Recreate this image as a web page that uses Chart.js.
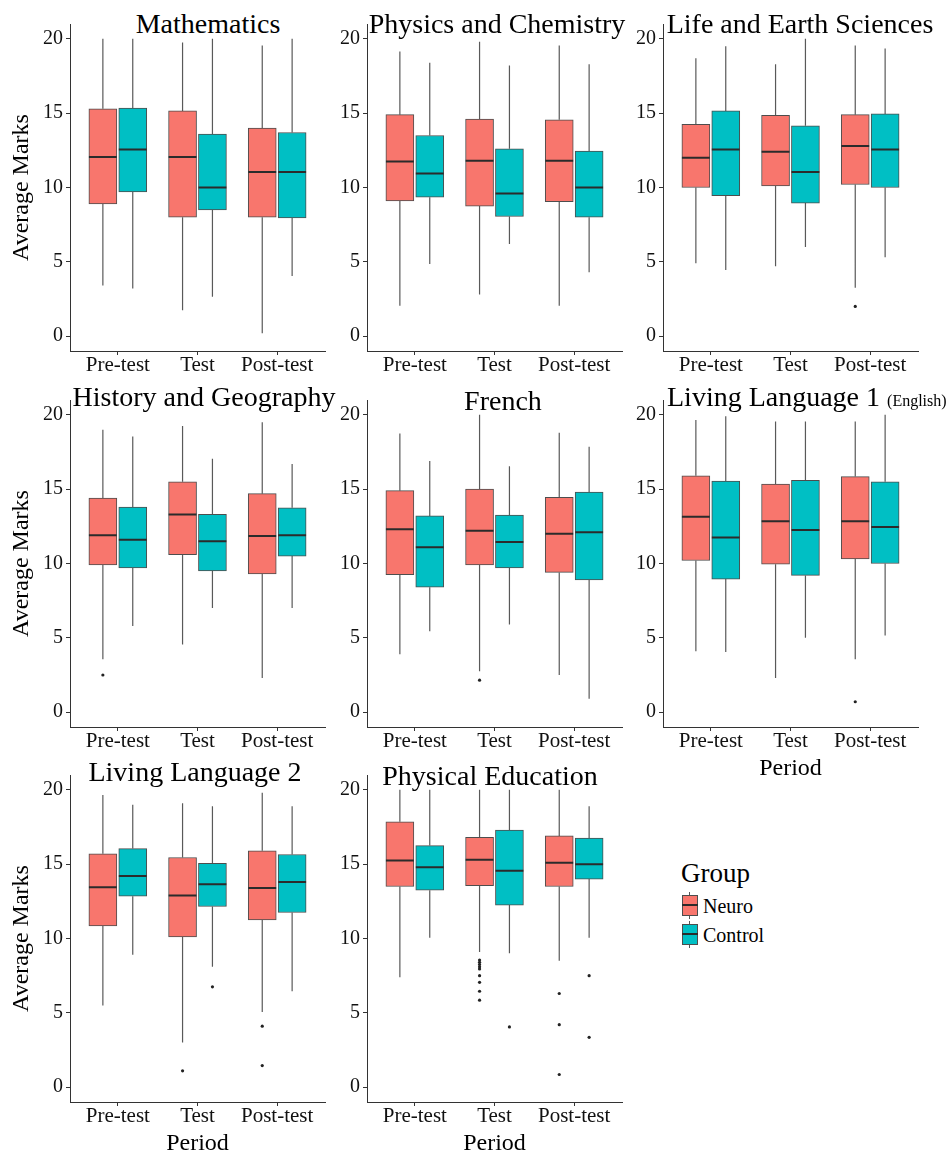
<!DOCTYPE html>
<html>
<head>
<meta charset="utf-8">
<script src="https://cdn.jsdelivr.net/npm/chart.js@4.4.1/dist/chart.umd.min.js"></script>
<style>
  body { margin: 0; background: #fff; }
  #wrap { position: relative; width: 949px; height: 1153px; overflow: hidden;
          font-family: "Liberation Serif", "Times New Roman", serif; color: #000; }
  #wrap canvas { position: absolute; }
  .title { position: absolute; font-size: 28px; line-height: 28px; white-space: nowrap; }
  .title.c { width: 400px; text-align: center; }
  .title small { font-size: 16px; margin-left: 7px; }
  .lg { position: absolute; white-space: nowrap; }
  .key { position: absolute; width: 16px; height: 27px; }
  .key .stub { position: absolute; left: 7px; top: 0; width: 1px; height: 27px; background: #555; }
  .key .box { position: absolute; left: 0; top: 3px; width: 16px; height: 21px;
              box-sizing: border-box; border: 1px solid #4d4d4d; }
  .key .med { position: absolute; left: 0; top: 12px; width: 16px; height: 2px; background: #2b2b2b; }
</style>
</head>
<body>
<div id="wrap">
  <div class="lg" style="left:681px; top:860px; font-size:27px; line-height:27px;">Group</div>
  <div class="key" style="left:682px; top:892px;"><div class="stub"></div><div class="box" style="background:#F8766D"></div><div class="med"></div></div>
  <div class="lg" style="left:703px; top:896px; font-size:20px; line-height:20px;">Neuro</div>
  <div class="key" style="left:682px; top:921px;"><div class="stub"></div><div class="box" style="background:#00BFC4"></div><div class="med"></div></div>
  <div class="lg" style="left:703px; top:925px; font-size:20px; line-height:20px;">Control</div>
</div>
<script>
const periods = ['Pre-test', 'Test', 'Post-test'];
const groups = ['Neuro', 'Control'];
const yTicks = [0, 5, 10, 15, 20];

// each row: [lower whisker, Q1, median, Q3, upper whisker] for Pre-test, Test, Post-test
const mathNeuro = [[3.4, 8.9, 12.05, 15.3, 20.0], [1.75, 8.0, 12.05, 15.15, 19.75], [0.2, 8.0, 11.05, 14.0, 19.55]];
const mathControl = [[3.2, 9.7, 12.55, 15.35, 20.0], [2.65, 8.5, 10.0, 13.6, 20.0], [4.05, 7.95, 11.05, 13.7, 20.0]];
const mathNeuroOut = [[], [], []];
const mathControlOut = [[], [], []];

const physNeuro = [[2.05, 9.1, 11.75, 14.9, 19.15], [2.8, 8.75, 11.8, 14.6, 19.8], [2.05, 9.05, 11.8, 14.55, 19.55]];
const physControl = [[4.85, 9.35, 10.95, 13.5, 18.4], [6.2, 8.05, 9.6, 12.6, 18.2], [4.3, 8.0, 10.0, 12.45, 18.3]];
const physNeuroOut = [[], [], []];
const physControlOut = [[], [], []];

const lifeNeuro = [[4.9, 10.0, 12.0, 14.25, 18.7], [4.7, 10.1, 12.4, 14.85, 18.3], [3.25, 10.2, 12.8, 14.9, 19.55]];
const lifeControl = [[4.45, 9.45, 12.55, 15.15, 19.5], [6.0, 8.95, 11.05, 14.15, 20.0], [5.3, 10.0, 12.55, 14.95, 19.35]];
const lifeNeuroOut = [[], [], [2.0]];
const lifeControlOut = [[], [], []];

const histNeuro = [[3.55, 9.9, 11.9, 14.4, 19.0], [4.55, 10.6, 13.3, 15.5, 19.25], [2.3, 9.3, 11.85, 14.7, 19.5]];
const histControl = [[5.8, 9.7, 11.6, 13.8, 18.55], [7.0, 9.5, 11.5, 13.3, 17.05], [7.0, 10.5, 11.9, 13.75, 16.7]];
const histNeuroOut = [[2.5], [], []];
const histControlOut = [[], [], []];

const frenchNeuro = [[3.9, 9.25, 12.3, 14.9, 18.75], [2.75, 9.9, 12.2, 15.0, 20.0], [2.5, 9.4, 12.0, 14.45, 18.8]];
const frenchControl = [[5.45, 8.4, 11.1, 13.2, 16.9], [5.9, 9.7, 11.45, 13.25, 16.55], [0.9, 8.9, 12.1, 14.8, 17.85]];
const frenchNeuroOut = [[], [2.15], []];
const frenchControlOut = [[], [], []];

const ll1Neuro = [[4.1, 10.2, 13.15, 15.9, 19.65], [2.3, 9.95, 12.85, 15.35, 19.55], [3.55, 10.3, 12.85, 15.85, 19.55]];
const ll1Control = [[4.05, 8.95, 11.75, 15.55, 19.9], [5.0, 9.2, 12.25, 15.6, 19.55], [5.15, 10.0, 12.45, 15.5, 20.0]];
const ll1NeuroOut = [[], [], [0.7]];
const ll1ControlOut = [[], [], []];

const ll2Neuro = [[5.5, 10.85, 13.45, 15.7, 19.65], [3.0, 10.1, 12.9, 15.45, 19.1], [5.05, 11.25, 13.4, 15.9, 19.8]];
const ll2Control = [[8.9, 12.85, 14.2, 16.05, 19.0], [8.1, 12.15, 13.65, 15.05, 18.9], [6.45, 11.75, 13.8, 15.65, 18.9]];
const ll2NeuroOut = [[], [1.1], [4.1, 1.45]];
const ll2ControlOut = [[], [6.75], []];

const peNeuro = [[7.4, 13.5, 15.25, 17.85, 20.0], [9.1, 13.55, 15.3, 16.8, 20.0], [8.5, 13.5, 15.1, 16.9, 20.0]];
const peControl = [[10.05, 13.25, 14.8, 16.25, 20.0], [9.0, 12.25, 14.55, 17.3, 20.0], [10.05, 14.0, 15.0, 16.75, 18.9]];
const peNeuroOut = [[], [8.55, 8.4, 8.25, 8.1, 7.95, 7.5, 7.05, 6.45, 5.85], [6.3, 4.2, 0.85]];
const peControlOut = [[], [4.05], [7.5, 3.35]];

const subjects = [
  { title: 'Mathematics', neuro: mathNeuro, control: mathControl, neuroOut: mathNeuroOut, controlOut: mathControlOut },
  { title: 'Physics and Chemistry', neuro: physNeuro, control: physControl, neuroOut: physNeuroOut, controlOut: physControlOut },
  { title: 'Life and Earth Sciences', neuro: lifeNeuro, control: lifeControl, neuroOut: lifeNeuroOut, controlOut: lifeControlOut },
  { title: 'History and Geography', neuro: histNeuro, control: histControl, neuroOut: histNeuroOut, controlOut: histControlOut },
  { title: 'French', neuro: frenchNeuro, control: frenchControl, neuroOut: frenchNeuroOut, controlOut: frenchControlOut },
  { title: 'Living Language 1', note: '(English)', neuro: ll1Neuro, control: ll1Control, neuroOut: ll1NeuroOut, controlOut: ll1ControlOut },
  { title: 'Living Language 2', neuro: ll2Neuro, control: ll2Control, neuroOut: ll2NeuroOut, controlOut: ll2ControlOut },
  { title: 'Physical Education', neuro: peNeuro, control: peControl, neuroOut: peNeuroOut, controlOut: peControlOut }
];

// layout only
const FONT = 'Liberation Serif';
const colLeft = [0, 297, 593];
const rowTop = [4, 380, 755];
const titleAt = [[208, 10], [497, 10], [800, 10], [204, 383], [503, 387], [667, 383], [195, 758], [490, 762]];
const colors = { Neuro: '#F8766D', Control: '#00BFC4' };
const dodge = 0.1875, halfBox = 0.175;

const wrap = document.getElementById('wrap');

subjects.forEach((s, i) => {
  const col = i % 3, row = Math.floor(i / 3);
  const showYTitle = col === 0;
  const showXTitle = i >= 5;

  // panel title
  const t = document.createElement('div');
  t.className = 'title' + (s.note ? '' : ' c');
  t.style.left = (s.note ? titleAt[i][0] : titleAt[i][0] - 200) + 'px';
  t.style.top = titleAt[i][1] + 'px';
  t.textContent = s.title;
  if (s.note) {
    const sm = document.createElement('small');
    sm.textContent = s.note;
    t.appendChild(sm);
  }
  wrap.appendChild(t);

  const cv = document.createElement('canvas');
  cv.width = 330;
  cv.height = 407;
  cv.style.left = colLeft[col] + 'px';
  cv.style.top = rowTop[row] + 'px';
  wrap.appendChild(cv);

  const datasets = [];
  groups.forEach((g, gi) => {
    const stats = gi === 0 ? s.neuro : s.control;
    const outs = gi === 0 ? s.neuroOut : s.controlOut;
    const off = gi === 0 ? -dodge : dodge;
    const box = [], whisk = [], med = [], pts = [];
    stats.forEach((r, p) => {
      const x = p + off;
      box.push({ x: x, y: [r[1], r[3]] });
      whisk.push({ x: x, y: r[0] }, { x: x, y: r[1] }, { x: x, y: null },
                 { x: x, y: r[3] }, { x: x, y: r[4] }, { x: x, y: null });
      med.push({ x: x - halfBox, y: r[2] }, { x: x + halfBox, y: r[2] }, { x: x, y: null });
      outs[p].forEach(v => pts.push({ x: x, y: v }));
    });
    datasets.push({ type: 'bar', label: g, data: box, backgroundColor: colors[g], borderColor: '#4d4d4d',
                    borderWidth: 1, borderSkipped: false, barThickness: 28, grouped: false, order: 2 });
    datasets.push({ type: 'line', data: whisk, borderColor: '#595959', borderWidth: 1.2, pointRadius: 0,
                    spanGaps: false, fill: false, order: 3 });
    datasets.push({ type: 'line', data: med, borderColor: '#2b2b2b', borderWidth: 2, pointRadius: 0,
                    spanGaps: false, fill: false, order: 0 });
    datasets.push({ type: 'line', data: pts, showLine: false, pointRadius: 1.6, pointBackgroundColor: '#222',
                    pointBorderWidth: 0, order: 1 });
  });

  new Chart(cv.getContext('2d'), {
    type: 'bar',
    data: { datasets: datasets },
    options: {
      responsive: false,
      animation: false,
      devicePixelRatio: 1,
      events: [],
      layout: { padding: { top: 20, right: 5, bottom: 0, left: 0 } },
      plugins: { legend: { display: false }, tooltip: { enabled: false } },
      scales: {
        x: {
          type: 'linear', min: -0.6, max: 2.6, offset: false,
          afterBuildTicks: sc => { sc.ticks = periods.map((_, k) => ({ value: k })); },
          afterFit: sc => { sc.height = 60; },
          ticks: { callback: v => periods[v], font: { family: FONT, size: 21 }, color: '#111',
                   padding: -2, maxRotation: 0, autoSkip: false },
          grid: { drawOnChartArea: false, tickLength: 4, color: '#333', offset: false },
          border: { display: true, color: '#333', width: 1 },
          title: { display: showXTitle, text: 'Period', font: { family: FONT, size: 24 }, color: '#000',
                   padding: { top: 0, bottom: 4 } }
        },
        y: {
          type: 'linear', min: -1, max: 21,
          afterBuildTicks: sc => { sc.ticks = yTicks.map(v => ({ value: v })); },
          afterFit: sc => { sc.width = 70; },
          ticks: { font: { family: FONT, size: 20 }, color: '#111', padding: 3 },
          grid: { drawOnChartArea: false, tickLength: 4, color: '#333' },
          border: { display: true, color: '#333', width: 1 },
          title: { display: showYTitle, text: 'Average Marks', font: { family: FONT, size: 24 }, color: '#000',
                   padding: { top: 7, bottom: 0 } }
        }
      }
    }
  });
});
</script>
</body>
</html>
